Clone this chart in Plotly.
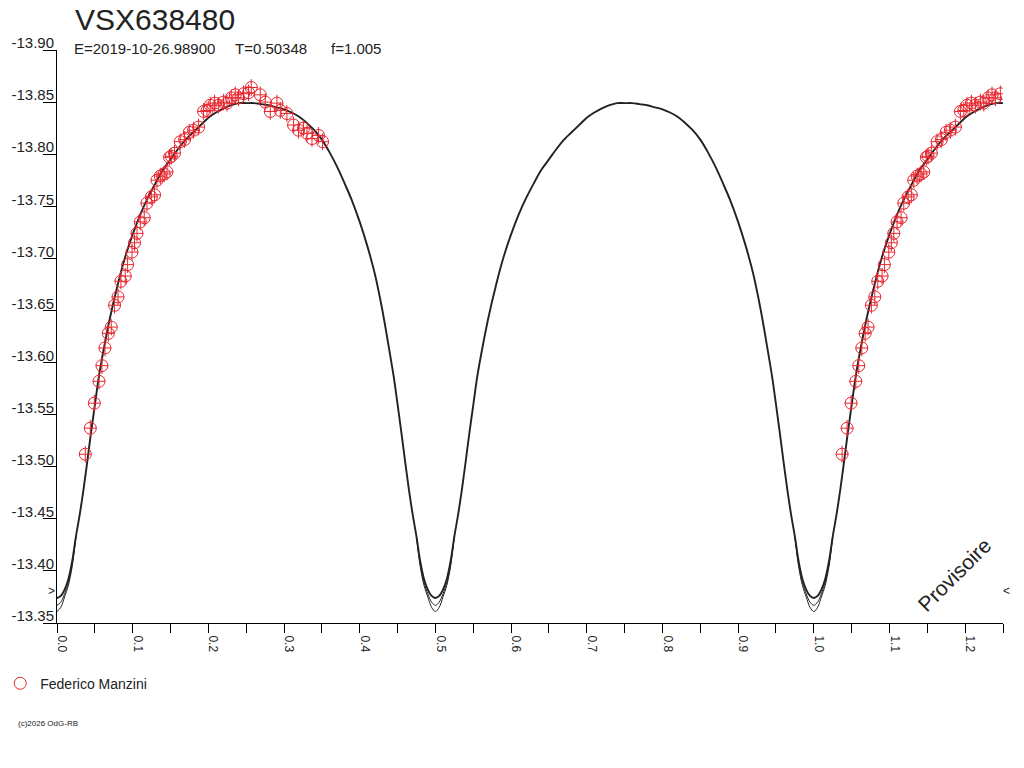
import plotly.graph_objects as go

# ---------------- data ----------------
title_text = "VSX638480"
epoch_text = "E=2019-10-26.98900"
period_text = "T=0.50348"
f_text = "f=1.005"
observer = "Federico Manzini"

# observations (phase, magnitude)
obs_phase = [0.0374, 0.0440, 0.0493, 0.0555, 0.0594, 0.0634, 0.0678, 0.0717, 0.0761, 0.0806,
             0.0845, 0.0902, 0.0933, 0.0991, 0.1025, 0.1057, 0.1100, 0.1153, 0.1189, 0.1246,
             0.1289, 0.1321, 0.1365, 0.1417, 0.1453, 0.1487, 0.1510, 0.1553, 0.1629, 0.1686,
             0.1748, 0.1804, 0.1871, 0.1937, 0.1982, 0.2025, 0.2082, 0.2135, 0.2201, 0.2246,
             0.2303, 0.2355, 0.2399, 0.2465, 0.2531, 0.2567, 0.2686, 0.2752, 0.2818, 0.2906,
             0.2950, 0.3038, 0.3126, 0.3192, 0.3258, 0.3303, 0.3369, 0.3456, 0.3509]
obs_mag = [-13.512, -13.537, -13.561, -13.582, -13.597, -13.614, -13.628, -13.634, -13.655, -13.663,
           -13.678, -13.683, -13.694, -13.706, -13.715, -13.724, -13.735, -13.739, -13.753, -13.759,
           -13.761, -13.775, -13.779, -13.781, -13.783, -13.797, -13.798, -13.801, -13.812, -13.814,
           -13.821, -13.823, -13.826, -13.841, -13.842, -13.847, -13.849, -13.847, -13.850, -13.849,
           -13.854, -13.857, -13.854, -13.858, -13.859, -13.864, -13.857, -13.850, -13.841, -13.849,
           -13.842, -13.839, -13.828, -13.823, -13.825, -13.820, -13.815, -13.818, -13.812]
obs_err = 0.008

# model light curve (phase 0..1)
model_phase = [0.000, 0.005, 0.010, 0.015, 0.020, 0.025, 0.030, 0.035, 0.040, 0.045, 0.050, 0.055,
               0.060, 0.070, 0.080, 0.090, 0.100, 0.110, 0.120, 0.130, 0.140, 0.150, 0.160, 0.170,
               0.180, 0.190, 0.200, 0.210, 0.220, 0.230, 0.240, 0.250, 0.260, 0.270, 0.280, 0.290,
               0.300, 0.310, 0.320, 0.330, 0.340, 0.350, 0.360, 0.370, 0.380, 0.390, 0.400, 0.410,
               0.420, 0.430, 0.440, 0.445, 0.450, 0.455, 0.460, 0.465, 0.470, 0.475, 0.480, 0.485,
               0.490, 0.495, 0.500,
               0.505, 0.510, 0.515, 0.520, 0.525, 0.530, 0.535, 0.540, 0.545, 0.550, 0.555,
               0.560, 0.570, 0.580, 0.590, 0.600, 0.610, 0.620, 0.630, 0.640, 0.650, 0.660, 0.670,
               0.680, 0.690, 0.700, 0.710, 0.720, 0.730, 0.740, 0.750, 0.760, 0.770, 0.780, 0.790,
               0.800, 0.810, 0.820, 0.830, 0.840, 0.850, 0.860, 0.870, 0.880, 0.890, 0.900, 0.910,
               0.920, 0.930, 0.940, 0.945, 0.950, 0.955, 0.960, 0.965, 0.970, 0.975, 0.980, 0.985,
               0.990, 0.995, 1.000]
model_mag = [-13.374, -13.376, -13.382, -13.392, -13.409, -13.433, -13.454, -13.478, -13.505, -13.533, -13.559, -13.585,
             -13.606, -13.643, -13.674, -13.701, -13.723, -13.742, -13.758, -13.772, -13.785, -13.795, -13.805, -13.814,
             -13.821, -13.828, -13.835, -13.840, -13.844, -13.847, -13.849, -13.849, -13.849, -13.848, -13.847, -13.845,
             -13.843, -13.840, -13.836, -13.830, -13.823, -13.814, -13.802, -13.788, -13.772, -13.755, -13.735, -13.712,
             -13.685, -13.650, -13.608, -13.586, -13.560, -13.533, -13.505, -13.478, -13.454, -13.433, -13.409, -13.392,
             -13.382, -13.376, -13.374,
             -13.376, -13.382, -13.392, -13.409, -13.433, -13.454, -13.478, -13.505, -13.533, -13.559, -13.585,
             -13.606, -13.643, -13.674, -13.701, -13.723, -13.742, -13.758, -13.772, -13.785, -13.795, -13.805, -13.814,
             -13.821, -13.828, -13.835, -13.840, -13.844, -13.847, -13.849, -13.849, -13.849, -13.848, -13.847, -13.845,
             -13.843, -13.840, -13.836, -13.830, -13.823, -13.814, -13.802, -13.788, -13.772, -13.755, -13.735, -13.712,
             -13.685, -13.650, -13.608, -13.586, -13.560, -13.533, -13.505, -13.478, -13.454, -13.433, -13.409, -13.392,
             -13.382, -13.376, -13.374]

# alternative model solutions that separate only near the minima
minima_phase = [0.0, 0.5, 1.0]
alt_dphase = [-0.025, -0.020, -0.015, -0.010, -0.005, 0.000, 0.005, 0.010, 0.015, 0.020, 0.025]
alt_b_mag = [-13.433, -13.407, -13.389, -13.378, -13.370, -13.367, -13.370, -13.378, -13.389, -13.407, -13.433]
alt_c_mag = [-13.433, -13.404, -13.386, -13.375, -13.365, -13.361, -13.365, -13.375, -13.386, -13.404, -13.433]

marker_level = -13.381

y_tickvals = [-13.90, -13.85, -13.80, -13.75, -13.70, -13.65, -13.60, -13.55, -13.50, -13.45, -13.40, -13.35]
y_ticktext = ["-13.90", "-13.85", "-13.80", "-13.75", "-13.70", "-13.65", "-13.60", "-13.55", "-13.50",
              "-13.45", "-13.40", "-13.35"]
x_tickvals = [0.0, 0.1, 0.2, 0.3, 0.4, 0.5, 0.6, 0.7, 0.8, 0.9, 1.0, 1.1, 1.2]
x_ticktext = ["0.0", "0.1", "0.2", "0.3", "0.4", "0.5", "0.6", "0.7", "0.8", "0.9", "1.0", "1.1", "1.2"]

PHASE_MAX = 1.25

# ---------------- build ----------------
FONT = "Liberation Sans, Arial, sans-serif"
RED = "#e8262e"
INK = "#222222"

# wrap: repeat phases 0..0.25 at 1..1.25
mx = list(model_phase) + [p + 1 for p in model_phase if 0 < p and p + 1 <= PHASE_MAX]
my = list(model_mag) + [m for p, m in zip(model_phase, model_mag) if 0 < p and p + 1 <= PHASE_MAX]

ox = list(obs_phase) + [p + 1 for p in obs_phase if p + 1 <= PHASE_MAX]
oy = list(obs_mag) + [m for p, m in zip(obs_phase, obs_mag) if p + 1 <= PHASE_MAX]


def alt_curve(mags):
    xs, ys = [], []
    for m0 in minima_phase:
        for d, v in zip(alt_dphase, mags):
            p = m0 + d
            if 0 <= p <= PHASE_MAX:
                xs.append(p)
                ys.append(v)
        xs.append(None)
        ys.append(None)
    return xs, ys


fig = go.Figure()

for mags in (alt_b_mag, alt_c_mag):
    ax_, ay_ = alt_curve(mags)
    fig.add_trace(go.Scatter(x=ax_, y=ay_, mode="lines", line=dict(color=INK, width=1, shape="spline"),
                             showlegend=False, hoverinfo="skip"))

fig.add_trace(go.Scatter(x=mx, y=my, mode="lines", line=dict(color=INK, width=1.9, shape="spline"),
                         showlegend=False, hoverinfo="skip"))

fig.add_trace(go.Scatter(
    x=ox, y=oy, mode="markers", name=observer,
    marker=dict(symbol="circle-open", size=12, color=RED, line=dict(color=RED, width=1)),
    error_y=dict(type="constant", value=obs_err, color=RED, thickness=1, width=0),
    showlegend=True))
fig.add_trace(go.Scatter(
    x=ox, y=oy, mode="markers",
    marker=dict(symbol="line-ew-open", size=9, color=RED, line=dict(color=RED, width=1)),
    showlegend=False, hoverinfo="skip"))

annotations = [
    dict(text=title_text, x=0.017, y=1.054, font=dict(size=30, color=INK)),
    dict(text=epoch_text, x=0.016, y=1.003, font=dict(size=15, color=INK)),
    dict(text=period_text, x=0.186, y=1.003, font=dict(size=15, color=INK)),
    dict(text=f_text, x=0.288, y=1.003, font=dict(size=15, color=INK)),
    dict(text="(c)2026 OdG-RB", x=-0.043, y=-0.176, font=dict(size=8, color=INK)),
]
anns = []
for a in annotations:
    a.update(xref="paper", yref="paper", xanchor="left", yanchor="middle", showarrow=False)
    a["font"]["family"] = FONT
    anns.append(a)
anns.append(dict(text="Provisoire", x=0.949, y=0.084, xref="paper", yref="paper", textangle=-45,
                 xanchor="center", yanchor="middle",
                 showarrow=False, font=dict(family=FONT, size=21, color=INK)))
anns.append(dict(text=">", x=-0.0053, y=marker_level, xref="paper", yref="y", showarrow=False,
                 xanchor="center", yanchor="middle", font=dict(family=FONT, size=12, color=INK)))
anns.append(dict(text="<", x=1.004, y=marker_level, xref="paper", yref="y", showarrow=False,
                 xanchor="center", yanchor="middle", font=dict(family=FONT, size=12, color=INK)))

fig.update_layout(
    width=1024, height=768,
    margin=dict(l=57, r=21, t=50, b=145, pad=0, autoexpand=False),
    paper_bgcolor="white", plot_bgcolor="white",
    font=dict(family=FONT, color=INK),
    annotations=anns,
    showlegend=True,
    legend=dict(x=-0.06, y=-0.078, xanchor="left", yanchor="top", bgcolor="rgba(0,0,0,0)",
                font=dict(family=FONT, size=14, color=INK)),
    xaxis=dict(range=[0, PHASE_MAX], showline=True, linecolor="black", linewidth=1,
               ticks="outside", ticklen=9, tickwidth=1, tickcolor="black",
               tickvals=x_tickvals, ticktext=x_ticktext, tickangle=90,
               tickfont=dict(family=FONT, size=12, color=INK), ticklabelshift=5,
               minor=dict(dtick=0.05, tick0=0, ticks="outside", ticklen=9, tickcolor="black", showgrid=False),
               showgrid=False, zeroline=False, automargin=False),
    yaxis=dict(range=[-13.35, -13.90], showline=True, linecolor="black", linewidth=1,
               ticks="outside", ticklen=13, tickwidth=1, tickcolor="black",
               tickvals=y_tickvals, ticktext=y_ticktext,
               ticklabelposition="outside top", ticklabelstandoff=-1, ticklabelshift=-4,
               tickfont=dict(family=FONT, size=15, color=INK),
               showgrid=False, zeroline=False, automargin=False),
)

# remove the default page margin so the 1024x768 figure fills the window exactly
fig.write_html("out.html", config={"displayModeBar": False},
               post_script="document.body.style.margin='0';")
